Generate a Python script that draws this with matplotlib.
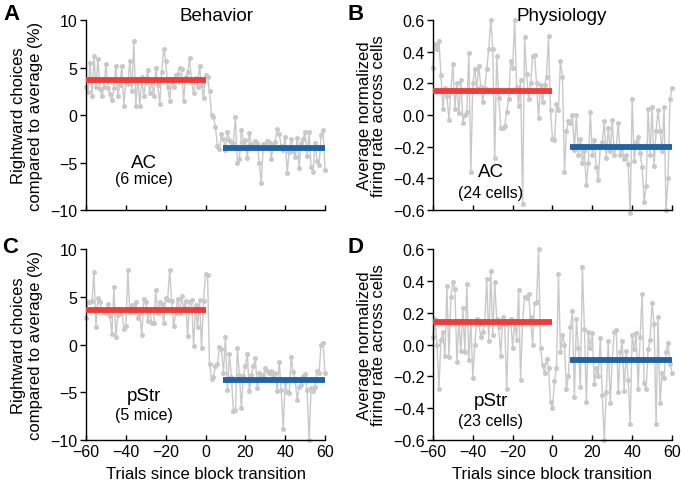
import numpy as np
import matplotlib
matplotlib.use("Agg")
import matplotlib.pyplot as plt

plt.rcParams['font.family'] = ['Liberation Sans', 'DejaVu Sans']

trials = list(range(-60, 61))

# Panel A (AC behavior), 121 values
beh_ac = [
    3.0, 2.4, 5.5, 2.0, 6.2, 3.0, 5.9, 2.7, 2.0, 3.0,
    5.4, 2.8, 2.2, 1.6, 2.8, 5.2, 2.0, 3.2, 5.2, 1.0,
    3.5, 3.3, 5.7, 2.5, 7.8, 1.0, 3.8, 1.0, 4.0, 2.0,
    3.5, 4.7, 2.3, 3.5, 2.0, 4.9, 3.2, 1.2, 4.5, 7.0,
    5.7, 3.0, 1.5, 3.8, 3.0, 4.2, 4.3, 5.0, 4.8, 1.5,
    4.0, 4.5, 6.0, 3.5, 2.3, 3.9, 3.0, 5.2, 3.2, 1.8,
    4.2,
    4.0, 2.5, 0.0, -0.2, -1.3, -3.3, -3.6, -2.0, -2.5, -3.7,
    -1.8, -2.6, -2.8, -2.9, -0.2, -5.0, -4.6, -1.6, -2.8, -2.6,
    -4.5, -1.9, -3.1, -3.3, -2.7, -2.9, -5.1, -7.2, -3.0, -3.0,
    -2.7, -2.8, -4.6, -3.1, -2.8, -1.5, -2.0, -3.3, -3.7, -2.3,
    -6.1, -3.9, -2.5, -3.8, -4.4, -2.4, -5.6, -2.9, -2.5, -1.8,
    -4.3, -1.8, -5.5, -6.0, -2.9, -4.8, -5.3, -2.1, -1.6, -5.8,
]
# Panel B (AC physiology)
phys_ac = [
    0.30, 0.45, 0.42, 0.47, 0.25, 0.04, 0.17, 0.12, -0.03, 0.16,
    0.32, 0.04, 0.20, 0.01, 0.22, -0.05, 0.00, 0.02, 0.39, -0.36,
    0.20, 0.29, 0.17, 0.31, 0.18, 0.08, 0.17, 0.29, 0.42, 0.60,
    0.42, -0.27, 0.37, 0.11, -0.08, -0.08, -0.07, 0.02, 0.10, 0.34,
    0.30, 0.60, 0.18, 0.06, 0.22, -0.56, 0.49, 0.26, 0.10, 0.20,
    0.37, 0.38, 0.20, -0.02, 0.19, 0.08, 0.19, 0.24, 0.50, 0.03,
    -0.15,
    -0.16, 0.07, 0.03, 0.34, 0.24, -0.36, -0.10, -0.04, -0.05, 0.00,
    -0.22, 0.00, -0.25, -0.15, -0.30, -0.23, -0.44, -0.30, 0.02, -0.25,
    -0.16, -0.33, -0.41, -0.20, -0.17, -0.04, -0.27, -0.08, -0.23, -0.03,
    -0.25, -0.20, -0.05, -0.25, -0.21, -0.28, -0.25, -0.31, -0.62, 0.10,
    -0.29, -0.17, -0.14, -0.24, -0.33, -0.55, -0.45, 0.04, -0.25, 0.05,
    -0.32, -0.10, 0.03, -0.10, -0.23, 0.05, -0.60, -0.40, 0.10, 0.17,
]
# Panel C (pStr behavior)
beh_pstr = [
    2.8, 4.5, 4.4, 4.6, 7.6, 1.8, 4.9, 4.5, 3.6, 3.4,
    3.3, 4.2, 3.0, 1.1, 6.0, 0.8, 3.1, 3.3, 3.6, 1.6,
    1.9, 7.8, 3.4, 4.1, 3.4, 4.4, 2.8, 3.3, 1.0, 4.8,
    4.4, 2.5, 3.5, 2.3, 2.2, 5.7, 3.3, 4.4, 4.2, 2.2,
    4.9, 4.7, 7.8, 4.6, 1.9, 3.3, 4.8, 3.3, 5.1, 3.8,
    4.6, 0.9, 4.5, 4.7, -0.2, 4.1, 1.8, 4.7, -0.4, 4.6,
    7.4,
    7.3, -2.0, -3.6, -3.4, -2.3, -2.0, -0.3, -0.5, -3.0, 0.8,
    -4.8, -1.0, -3.4, -7.0, -6.9, -0.4, -3.2, -6.6, -3.3, -2.2,
    -1.0, -4.9, -3.2, -2.3, -1.4, -4.6, -3.0, -3.4, -3.2, -2.5,
    -2.8, -3.0, -2.8, -3.2, -3.0, -4.9, -1.8, -4.8, -8.8, -3.9,
    -5.0, -5.1, -1.3, -2.9, -3.6, -5.8, -4.5, -4.2, -3.3, -3.1,
    -4.8, -10.0, -4.6, -4.9, -4.4, -2.8, -3.0, 0.0, 0.2, -3.0,
]
# Panel D (pStr physiology)
phys_pstr = [
    0.05, 0.16, 0.00, -0.28, 0.03, 0.08, -0.07, 0.37, -0.08, 0.30,
    0.39, 0.35, -0.11, 0.15, -0.04, 0.23, -0.05, 0.38, -0.10, 0.15,
    -0.21, 0.00, 0.16, 0.13, 0.05, 0.08, 0.15, 0.41, 0.02, 0.46,
    0.06, 0.39, 0.16, 0.11, -0.07, 0.17, 0.13, -0.28, 0.14, 0.16,
    -0.02, 0.15, 0.03, 0.34, -0.22, 0.15, 0.30, 0.29, 0.32, 0.17,
    0.00, 0.26, 0.27, 0.60, -0.02, -0.13, -0.18, -0.09, -0.15, -0.36,
    -0.40,
    -0.23, -0.15, 0.44, -0.05, 0.06, 0.00, -0.28, -0.20, 0.11, 0.21,
    -0.33, 0.16, -0.02, -0.27, 0.49, 0.10, -0.36, 0.08, -0.02, 0.07,
    -0.25, -0.15, -0.20, 0.04, -0.32, -0.60, -0.30, 0.02, -0.37, -0.09,
    0.08, 0.09, -0.30, -0.05, 0.02, -0.29, -0.04, -0.22, -0.50, 0.06,
    -0.03, 0.07, -0.28, 0.05, 0.32, -0.24, -0.28, -0.03, 0.03, 0.26,
    0.13, -0.50, 0.17, -0.37, -0.18, -0.21, -0.05, 0.01, -0.12, -0.18,
]

pre_mean = [3.7, 0.15, 3.6, 0.14]
post_mean = [-3.5, -0.20, -3.7, -0.10]
pre_span = [-60, 0]
post_span = [9, 60]

beh_ylabel = ["Rightward choices", "compared to average (%)"]
phys_ylabel = ["Average normalized", "firing rate across cells"]

panels = [
    ("A", beh_ac, [0.1263, 0.5613, 0.3510, 0.3950], (-10, 10), [-10, -5, 0, 5, 10],
     beh_ylabel, "AC", "(6 mice)", (-5.0, -6.7), (18.5, 35.5)),
    ("B", phys_ac, [0.6358, 0.5613, 0.3510, 0.3950], (-0.6, 0.6), [-0.6, -0.4, -0.2, 0.0, 0.2, 0.4, 0.6],
     phys_ylabel, "AC", "(24 cells)", (-0.355, -0.487), (364, 378.5)),
    ("C", beh_pstr, [0.1263, 0.0832, 0.3510, 0.3970], (-10, 10), [-10, -5, 0, 5, 10],
     beh_ylabel, "pStr", "(5 mice)", (-5.35, -7.3), (18.5, 35.5)),
    ("D", phys_pstr, [0.6358, 0.0832, 0.3510, 0.3970], (-0.6, 0.6), [-0.6, -0.4, -0.2, 0.0, 0.2, 0.4, 0.6],
     phys_ylabel, "pStr", "(23 cells)", (-0.353, -0.48), (364, 378.5)),
]

W, H = 681, 481
fig = plt.figure(figsize=(W / 100, H / 100), dpi=100)
grey = "#c9c9c9"
red = "#f23a3a"
blue = "#1f62a6"

for i, (letter, vals, pos, ylim, yticks, ylabel, name, sub, ann_y, lab_x) in enumerate(panels):
    ax = fig.add_axes(pos)
    ax.plot(trials, vals, color=grey, lw=1.0, marker='o', ms=2.6, mfc=grey, mec=grey, zorder=1, clip_on=False)
    ax.plot(pre_span, [pre_mean[i]] * 2, color=red, lw=4.2, solid_capstyle='butt', zorder=3)
    ax.plot(post_span, [post_mean[i]] * 2, color=blue, lw=4.2, solid_capstyle='butt', zorder=3)
    ax.set_xlim(-60, 60)
    ax.set_ylim(*ylim)
    ax.set_yticks(yticks)
    if ylim[1] < 1:
        ax.set_yticklabels([f"{t:.1f}".replace("-", "\u2212") for t in yticks])
    ax.set_xticks([-60, -40, -20, 0, 20, 40, 60])
    for s in ("top", "right"):
        ax.spines[s].set_visible(False)
    for s in ("left", "bottom"):
        ax.spines[s].set_linewidth(1.0)
    ax.tick_params(axis='y', direction='out', length=4, width=1.0, labelsize=11.5, pad=2)
    ax.tick_params(axis='x', direction='in', length=3.5, width=1.0, labelsize=11.5, pad=3)
    if letter in ("A", "B"):
        ax.tick_params(axis='x', labelbottom=False)
    else:
        ax.set_xlabel("Trials since block transition", fontsize=12, labelpad=5)
    yc = pos[1] + pos[3] / 2
    for lx, line in zip(lab_x, ylabel):
        fig.text(lx / W, yc, line, rotation=90, ha='center', va='center', fontsize=12)
    ax.text(-31, ann_y[0], name, ha='center', va='center', fontsize=13.5)
    ax.text(-31, ann_y[1], sub, ha='center', va='center', fontsize=11.5)

fig.text(217 / W, 1 - 16.5 / H, "Behavior", ha='center', va='center', fontsize=13.5)
fig.text(562 / W, 1 - 16.5 / H, "Physiology", ha='center', va='center', fontsize=13.5)
for lt, x, y in [("A", 11, 14), ("B", 356, 14), ("C", 10, 248), ("D", 356, 248)]:
    fig.text(x / W, 1 - y / H, lt, ha='center', va='center', fontsize=16, fontweight='bold')

fig.savefig("out.png", dpi=100)
